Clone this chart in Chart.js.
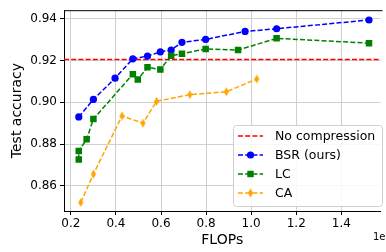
<!DOCTYPE html>
<html><head><meta charset="utf-8">
<script src="https://cdn.jsdelivr.net/npm/chart.js@4.4.0/dist/chart.umd.min.js"></script>
<style>html,body{margin:0;padding:0;background:#fff;overflow:hidden}</style>
</head><body>
<canvas id="c" width="386" height="252" style="width:386px;height:252px;display:block"></canvas>
<script>
const bsrX = [0.235, 0.30, 0.396, 0.475, 0.54, 0.597, 0.645, 0.693, 0.798, 0.973, 1.113, 1.523];
const bsrY = [0.8930, 0.9014, 0.9116, 0.9209, 0.9222, 0.9242, 0.9251, 0.9288, 0.9302, 0.9340, 0.9353, 0.9395];
const lcX = [0.235, 0.235, 0.27, 0.30, 0.475, 0.497, 0.54, 0.597, 0.645, 0.693, 0.798, 0.942, 1.113, 1.523];
const lcY = [0.8726, 0.8767, 0.8823, 0.8920, 0.9135, 0.9110, 0.9168, 0.9158, 0.9223, 0.9233, 0.9256, 0.9251, 0.9307, 0.9284];
const caX = [0.244, 0.30, 0.427, 0.52, 0.58, 0.728, 0.89, 1.025];
const caY = [0.8520, 0.8656, 0.8935, 0.8900, 0.9005, 0.9037, 0.9051, 0.9112];
const noCompression = 0.9205;
const xTicks = [0.2, 0.4, 0.6, 0.8, 1.0, 1.2, 1.4];
const yTicks = [0.86, 0.88, 0.90, 0.92, 0.94];
const xMin = 0.1695, xMax = 1.574, yMin = 0.8479, yMax = 0.9442;

const FONT = "'DejaVu Sans', sans-serif";
function diamond(w, h, color) {
  const c = document.createElement('canvas');
  c.width = w + 2; c.height = h + 2;
  const g = c.getContext('2d');
  g.fillStyle = color;
  g.beginPath();
  g.moveTo(c.width / 2, 1); g.lineTo(c.width - 1, c.height / 2);
  g.lineTo(c.width / 2, c.height - 1); g.lineTo(1, c.height / 2); g.closePath();
  g.fill();
  return c;
}
const caMarker = diamond(5, 9, '#ffa500');
const pts = (xs, ys) => xs.map((x, i) => ({x, y: ys[i]}));
const dash = [5, 2.2];

const datasets = [
  {label: 'No compression', data: [{x: xMin, y: noCompression}, {x: xMax, y: noCompression}],
   borderColor: '#ff0000', borderWidth: 1.5, borderDash: dash, pointRadius: 0, showLine: true, order: 3},
  {label: 'BSR (ours)', data: pts(bsrX, bsrY), borderColor: '#0000ff', backgroundColor: '#0000ff',
   borderWidth: 1.5, borderDash: dash, pointStyle: 'circle', pointRadius: 3.6, pointBorderWidth: 0, showLine: true, order: 2},
  {label: 'LC', data: pts(lcX, lcY), borderColor: '#008000', backgroundColor: '#008000',
   borderWidth: 1.5, borderDash: dash, pointStyle: 'rect', pointRadius: 4.6, pointBorderWidth: 0, showLine: true, order: 1},
  {label: 'CA', data: pts(caX, caY), borderColor: '#ffa500', backgroundColor: '#ffa500',
   borderWidth: 1.5, borderDash: dash, pointStyle: caMarker, pointRadius: 4, showLine: true, order: 0}
];

const framePlugin = {
  id: 'frame',
  afterDatasetsDraw(chart) {
    const {ctx, chartArea: a} = chart;
    ctx.save();
    ctx.strokeStyle = '#000'; ctx.lineWidth = 1;
    ctx.beginPath();
    ctx.moveTo(a.left + 0.5, a.top + 0.5); ctx.lineTo(a.right + 2, a.top + 0.5);
    ctx.stroke();
    // offset text
    ctx.fillStyle = '#000'; ctx.font = '10px ' + FONT; ctx.textAlign = 'left'; ctx.textBaseline = 'middle';
    ctx.fillText('1e8', 373, 237);
    // legend
    const bx = 233.5, by = 125.5, bw = 149, bh = 81, r = 3;
    ctx.beginPath();
    ctx.moveTo(bx + r, by); ctx.lineTo(bx + bw - r, by); ctx.arcTo(bx + bw, by, bx + bw, by + r, r);
    ctx.lineTo(bx + bw, by + bh - r); ctx.arcTo(bx + bw, by + bh, bx + bw - r, by + bh, r);
    ctx.lineTo(bx + r, by + bh); ctx.arcTo(bx, by + bh, bx, by + bh - r, r);
    ctx.lineTo(bx, by + r); ctx.arcTo(bx, by, bx + r, by, r); ctx.closePath();
    ctx.fillStyle = 'rgba(255,255,255,0.85)'; ctx.fill();
    ctx.strokeStyle = '#d0d0d0'; ctx.lineWidth = 1; ctx.stroke();
    const rows = [136, 155, 174, 193];
    chart.data.datasets.forEach((ds, i) => {
      const y = rows[i];
      ctx.save();
      ctx.strokeStyle = ds.borderColor; ctx.lineWidth = 1.5; ctx.setLineDash(dash);
      ctx.beginPath(); ctx.moveTo(238, y); ctx.lineTo(263, y); ctx.stroke();
      ctx.restore();
      ctx.fillStyle = ds.borderColor;
      if (i === 1) { ctx.beginPath(); ctx.arc(250.5, y, 3.6, 0, Math.PI * 2); ctx.fill(); }
      if (i === 2) { ctx.fillRect(247.3, y - 3.2, 6.4, 6.4); }
      if (i === 3) { ctx.drawImage(caMarker, 250.5 - caMarker.width / 2, y - caMarker.height / 2); }
      ctx.fillStyle = '#000'; ctx.font = '12.5px ' + FONT; ctx.textAlign = 'left'; ctx.textBaseline = 'middle';
      ctx.fillText(ds.label, 275, y + 1);
    });
    ctx.restore();
  }
};

new Chart(document.getElementById('c'), {
  type: 'scatter',
  data: {datasets},
  options: {
    responsive: false, animation: false, devicePixelRatio: 1, events: [],
    layout: {padding: {top: 4, right: 0, left: 0, bottom: 0}},
    plugins: {legend: {display: false}, tooltip: {enabled: false}},
    scales: {
      x: {
        type: 'linear', min: xMin, max: xMax,
        afterBuildTicks: s => { s.ticks = xTicks.map(v => ({value: v})); },
        afterFit: s => { s.height = 41; },
        ticks: {color: '#000', font: {family: FONT, size: 12}, padding: 2, maxRotation: 0,
                callback: v => v.toFixed(1)},
        grid: {color: '#d0d0d0', lineWidth: 1, tickColor: '#000', tickLength: 4, drawTicks: true},
        border: {display: true, color: '#000', width: 1},
        title: {display: true, text: 'FLOPs', color: '#000', font: {family: FONT, size: 14}, padding: {top: 0, bottom: 3}}
      },
      y: {
        type: 'linear', min: yMin, max: yMax,
        afterBuildTicks: s => { s.ticks = yTicks.map(v => ({value: v})); },
        afterFit: s => { s.width = 64; },
        ticks: {color: '#000', font: {family: FONT, size: 12}, padding: 3,
                callback: v => v.toFixed(2)},
        grid: {color: '#d0d0d0', lineWidth: 1, tickColor: '#000', tickLength: 4, drawTicks: true},
        border: {display: true, color: '#000', width: 1},
        title: {display: true, text: 'Test accuracy', color: '#000', font: {family: FONT, size: 14}, padding: {top: 9, bottom: 0}}
      }
    }
  },
  plugins: [framePlugin]
});
</script>
</body></html>
